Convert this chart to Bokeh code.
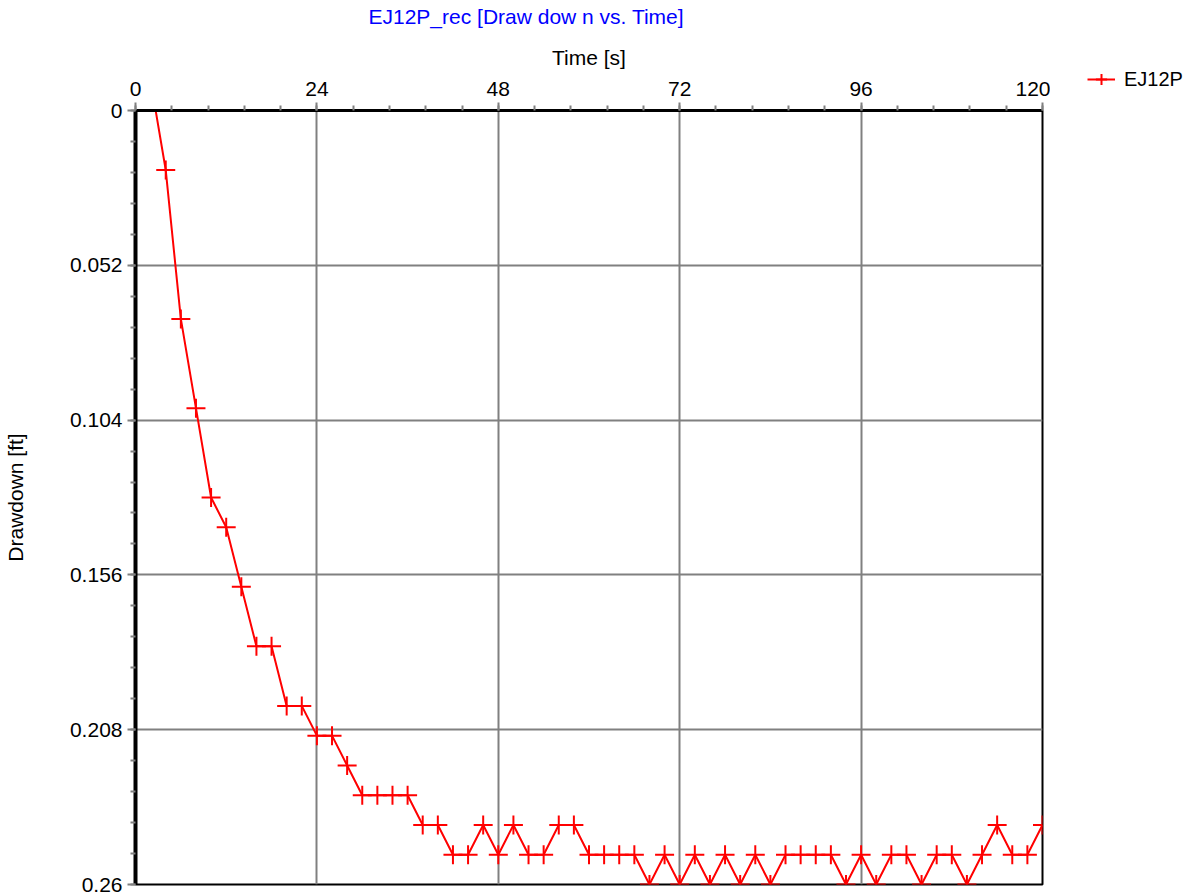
from bokeh.plotting import figure
from bokeh.layouts import row
from bokeh.models import (Range1d, FixedTicker, PrintfTickFormatter, Legend, LegendItem, Title)
from bokeh.embed import file_html
from bokeh.resources import INLINE

# ---- data ----
time_s = [2, 4, 6, 8, 10, 12, 14, 16, 18, 20,
          22, 24, 26, 28, 30, 32, 34, 36, 38, 40,
          42, 44, 46, 48, 50, 52, 54, 56, 58, 60,
          62, 64, 66, 68, 70, 72, 74, 76, 78, 80,
          82, 84, 86, 88, 90, 92, 94, 96, 98, 100,
          102, 104, 106, 108, 110, 112, 114, 116, 118, 120]
drawdown_ft = [-0.01, 0.02, 0.07, 0.10, 0.13, 0.14, 0.16, 0.18, 0.18, 0.20,
               0.20, 0.21, 0.21, 0.22, 0.23, 0.23, 0.23, 0.23, 0.24, 0.24,
               0.25, 0.25, 0.24, 0.25, 0.24, 0.25, 0.25, 0.24, 0.24, 0.25,
               0.25, 0.25, 0.25, 0.26, 0.25, 0.26, 0.25, 0.26, 0.25, 0.26,
               0.25, 0.26, 0.25, 0.25, 0.25, 0.25, 0.26, 0.25, 0.26, 0.25,
               0.25, 0.26, 0.25, 0.25, 0.26, 0.25, 0.24, 0.25, 0.25, 0.24]
series_name = "EJ12P"
title_text = "EJ12P_rec [Draw dow n vs. Time]"
x_label = "Time [s]"
y_label = "Drawdown [ft]"
x_ticks = [0, 24, 48, 72, 96, 120]
y_ticks = [0, 0.052, 0.104, 0.156, 0.208, 0.26]

FONT = "Liberation Sans"
GRAY = "#808080"
RED = "#FF0000"

p = figure(width=1050, height=896, output_backend="svg", toolbar_location=None,
           x_axis_location="above",
           x_range=Range1d(0, 120), y_range=Range1d(0.26, 0),
           min_border_left=134, min_border_right=8,
           min_border_top=110, min_border_bottom=12)
p.background_fill_color = "white"
p.border_fill_color = "white"
p.outline_line_color = "black"
p.outline_line_width = 2

p.title = Title(text=title_text, align="left", offset=233,
                text_font=FONT, text_font_size="21px", text_font_style="normal",
                text_color="#0000FF", standoff=0)
# empty spacer between the top axis and the title
p.add_layout(Title(text=" ", text_font_size="1px", standoff=12), "above")

x_minor = [i * 4.8 for i in range(26)]
y_minor = [i * 0.0104 for i in range(26)]
xt = FixedTicker(ticks=x_ticks, minor_ticks=x_minor)
yt = FixedTicker(ticks=y_ticks, minor_ticks=y_minor)
p.xaxis.ticker = xt
p.yaxis.ticker = yt
p.xgrid.ticker = xt
p.ygrid.ticker = yt
p.yaxis.formatter = PrintfTickFormatter(format="%g")
p.xaxis.formatter = PrintfTickFormatter(format="%g")

for ax in (p.xaxis[0], p.yaxis[0]):
    ax.axis_line_color = "black"
    ax.major_tick_line_color = GRAY
    ax.major_tick_line_width = 2
    ax.major_tick_out = 8
    ax.major_tick_in = 0
    ax.minor_tick_line_color = GRAY
    ax.minor_tick_line_width = 2
    ax.minor_tick_out = 5
    ax.minor_tick_in = 0
    ax.major_label_text_font = FONT
    ax.major_label_text_font_size = "21px"
    ax.major_label_text_color = "black"
    ax.axis_label_text_font = FONT
    ax.axis_label_text_font_size = "21px"
    ax.axis_label_text_font_style = "normal"
    ax.axis_label_text_color = "black"

p.xaxis.axis_line_width = 3
p.yaxis.axis_line_width = 4
p.xaxis.axis_label = x_label
p.yaxis.axis_label = y_label
p.xaxis.major_label_standoff = 7
p.xaxis.axis_label_standoff = 10
p.yaxis.major_label_standoff = 5
p.yaxis.axis_label_standoff = 40

for g in (p.xgrid[0], p.ygrid[0]):
    g.grid_line_color = GRAY
    g.grid_line_width = 2

p.line(time_s, drawdown_ft, line_color=RED, line_width=2)
p.scatter(time_s, drawdown_ft, marker="cross", size=19, line_color=RED, line_width=2)

# ---- legend panel to the right; the key renderers share the series data
# but their range is set so that nothing of them shows in this panel ----
lg = figure(width=147, height=896, output_backend="svg", toolbar_location=None,
            x_axis_location=None, y_axis_location=None,
            x_range=Range1d(1000, 1001), y_range=Range1d(1000, 1001),
            min_border_left=0, min_border_right=0, min_border_top=0, min_border_bottom=0)
lg.frame_align = False
lg.grid.visible = False
lg.outline_line_color = None
lg.background_fill_color = "white"
lg.border_fill_color = "white"
kl = lg.line(time_s, drawdown_ft, line_color=RED, line_width=2)
ks = lg.scatter(time_s, drawdown_ft, marker="cross", line_color=RED, line_width=2)
legend = Legend(items=[LegendItem(label=series_name, renderers=[kl, ks])],
                location=(37, 803), orientation="vertical",
                border_line_color=None, background_fill_alpha=0,
                padding=0, margin=0, spacing=0,
                glyph_width=28, glyph_height=28, label_standoff=9,
                label_text_font=FONT, label_text_font_size="20px",
                label_text_color="black")
lg.add_layout(legend, "center")

layout = row(p, lg)
open("out.html", "w").write(file_html(layout, INLINE))
